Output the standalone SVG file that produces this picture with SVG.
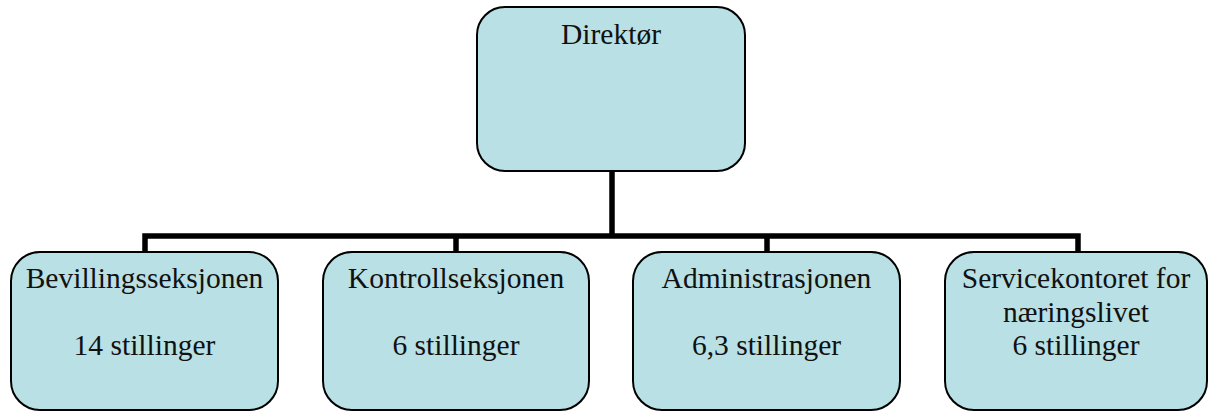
<svg xmlns="http://www.w3.org/2000/svg" width="1208" height="412" viewBox="0 0 1208 412">
<style>
.box{fill:#B9E0E4;stroke:#000;stroke-width:2}
.t{font-family:"Liberation Serif","Times New Roman",serif;font-size:29.5px;fill:#111;text-anchor:middle}
.c{stroke:#000;stroke-width:5.5;fill:none;stroke-linecap:butt;stroke-linejoin:miter}
</style>
<rect width="1208" height="412" fill="#fff"/>
<g id="connectors">
<path class="c" d="M612 171V236"/>
<path class="c" d="M145 252V236H1078V252"/>
<path class="c" d="M456 236V252"/>
<path class="c" d="M767 236V252"/>
</g>
<g id="direktor">
<rect class="box" x="477" y="7" width="268" height="164" rx="28"/>
<text class="t" x="611" y="44">Direktør</text>
</g>
<g id="bevilling">
<rect class="box" x="11" y="252" width="267" height="158" rx="29"/>
<text class="t" x="144.5" y="288">Bevillingsseksjonen</text>
<text class="t" x="144.5" y="355">14 stillinger</text>
</g>
<g id="kontroll">
<rect class="box" x="323" y="252" width="266" height="158" rx="29"/>
<text class="t" x="456" y="288">Kontrollseksjonen</text>
<text class="t" x="456" y="355">6 stillinger</text>
</g>
<g id="administrasjon">
<rect class="box" x="633" y="252" width="267" height="158" rx="29"/>
<text class="t" x="766.5" y="288">Administrasjonen</text>
<text class="t" x="766.5" y="355">6,3 stillinger</text>
</g>
<g id="servicekontoret">
<rect class="box" x="945" y="252" width="262" height="158" rx="29"/>
<text class="t" x="1076" y="288">Servicekontoret for</text>
<text class="t" x="1076" y="322">næringslivet</text>
<text class="t" x="1076" y="355">6 stillinger</text>
</g>
</svg>
